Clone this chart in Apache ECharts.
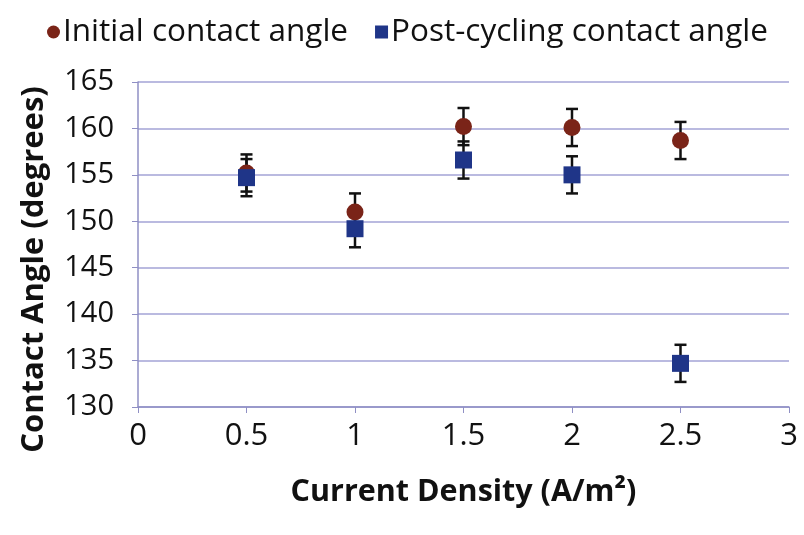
<!DOCTYPE html>
<html>
<head>
<meta charset="utf-8">
<script src="https://cdn.jsdelivr.net/npm/echarts@6/dist/echarts.min.js"></script>
<style>
  html, body { margin: 0; padding: 0; background: #fff; }
  #main { width: 804px; height: 535px; }
</style>
</head>
<body>
<div id="main"></div>
<script>
// current density (A/m2)
var density = [0.5, 1, 1.5, 2, 2.5];
var initialAngle = [155.2, 151.0, 160.2, 160.1, 158.7];
var initialErr = [2.0, 2.0, 2.0, 2.0, 2.0];
var postAngle = [154.7, 149.2, 156.6, 155.0, 134.7];
var postErr = [2.0, 2.0, 2.0, 2.0, 2.0];

var FONT = 'Open Sans';

function pairs(xs, ys) {
  var out = [];
  for (var i = 0; i < xs.length; i++) out.push([xs[i], ys[i]]);
  return out;
}
function errData(xs, ys, es) {
  var out = [];
  for (var i = 0; i < xs.length; i++) out.push([xs[i], ys[i] - es[i], ys[i] + es[i]]);
  return out;
}

// error bar drawn with a custom series
function renderErr(params, api) {
  var lo = api.coord([api.value(0), api.value(1)]);
  var hi = api.coord([api.value(0), api.value(2)]);
  var w = 6;
  var style = { stroke: '#111', lineWidth: 2.5 };
  return {
    type: 'group',
    children: [
      { type: 'line', shape: { x1: hi[0], y1: hi[1], x2: lo[0], y2: lo[1] }, style: style },
      { type: 'line', shape: { x1: hi[0] - w, y1: hi[1], x2: hi[0] + w, y2: hi[1] }, style: style },
      { type: 'line', shape: { x1: lo[0] - w, y1: lo[1], x2: lo[0] + w, y2: lo[1] }, style: style }
    ]
  };
}

var chart = echarts.init(document.getElementById('main'));
var option = {
  animation: false,
  legend: {
    top: 11,
    left: 42,
    itemWidth: 13,
    itemHeight: 13,
    itemGap: 27,
    textStyle: { fontFamily: FONT, fontSize: 31.5, color: '#111', padding: [0, 0, 0, -2] },
    data: [
      { name: 'Initial contact angle', icon: 'circle' },
      { name: 'Post-cycling contact angle', icon: 'rect' }
    ]
  },
  grid: { left: 138, right: 15, top: 82, bottom: 128 },
  xAxis: {
    type: 'value',
    min: 0,
    max: 3,
    interval: 0.5,
    name: 'Current Density (A/m²)',
    nameLocation: 'middle',
    nameGap: 70,
    nameTextStyle: { fontFamily: FONT, fontSize: 30.5, fontWeight: 'bold', color: '#111' },
    axisLine: { lineStyle: { color: '#8f8fc4', width: 1.5 } },
    axisTick: { show: true, length: 6, lineStyle: { color: '#8f8fc4' } },
    axisLabel: { fontFamily: FONT, fontSize: 31, color: '#111', margin: 14 },
    splitLine: { show: false }
  },
  yAxis: {
    type: 'value',
    min: 130,
    max: 165,
    interval: 5,
    name: 'Contact Angle (degrees)',
    nameLocation: 'middle',
    nameGap: 88,
    nameTextStyle: { fontFamily: FONT, fontSize: 31, fontWeight: 'bold', color: '#111', padding: [0, 50, 0, 0] },
    axisLine: { show: true, lineStyle: { color: '#8f8fc4', width: 1.5 } },
    axisTick: { show: true, length: 6, lineStyle: { color: '#8f8fc4' } },
    axisLabel: { fontFamily: FONT, fontSize: 29, color: '#111', margin: 24 },
    splitLine: { lineStyle: { color: '#a3a3d6', width: 1.5 } }
  },
  series: [
    {
      name: 'Initial contact angle',
      type: 'scatter',
      symbol: 'circle',
      symbolSize: 17,
      itemStyle: { color: '#7a2418', opacity: 1 },
      data: pairs(density, initialAngle),
      z: 3
    },
    {
      name: 'Post-cycling contact angle',
      type: 'scatter',
      symbol: 'rect',
      symbolSize: 17,
      itemStyle: { color: '#1f3588', opacity: 1 },
      data: pairs(density, postAngle),
      z: 4
    },
    {
      type: 'custom',
      renderItem: renderErr,
      data: errData(density, initialAngle, initialErr),
      z: 2
    },
    {
      type: 'custom',
      renderItem: renderErr,
      data: errData(density, postAngle, postErr),
      z: 2
    }
  ]
};
chart.setOption(option);
</script>
</body>
</html>
